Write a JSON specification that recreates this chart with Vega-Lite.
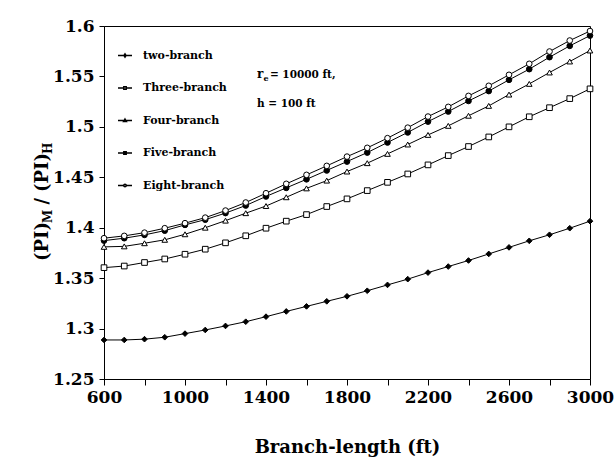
{
  "$schema": "https://vega.github.io/schema/vega-lite/v6.json",
  "width": 486,
  "height": 353,
  "autosize": {"type": "none"},
  "padding": {"left": 104, "top": 26, "right": 25, "bottom": 80},
  "background": "white",
  "config": {
    "view": {"stroke": "black", "strokeWidth": 1},
    "font": "DejaVu Serif",
    "axis": {"grid": false, "domainColor": "black", "tickColor": "black", "labelColor": "black", "titleColor": "black", "labelFont": "DejaVu Serif", "titleFont": "DejaVu Serif", "labelFontWeight": "bold", "titleFontWeight": "bold", "labelFontSize": 17, "titleFontSize": 18}
  },
  "datasets": {
    "curves": [
      {"series": "two-branch", "L": 600, "R": 1.2887}, {"series": "two-branch", "L": 700, "R": 1.2887}, {"series": "two-branch", "L": 800, "R": 1.2895}, {"series": "two-branch", "L": 900, "R": 1.2914}, {"series": "two-branch", "L": 1000, "R": 1.295}, {"series": "two-branch", "L": 1100, "R": 1.2986}, {"series": "two-branch", "L": 1200, "R": 1.3026}, {"series": "two-branch", "L": 1300, "R": 1.3068}, {"series": "two-branch", "L": 1400, "R": 1.3118}, {"series": "two-branch", "L": 1500, "R": 1.317}, {"series": "two-branch", "L": 1600, "R": 1.322}, {"series": "two-branch", "L": 1700, "R": 1.327}, {"series": "two-branch", "L": 1800, "R": 1.332}, {"series": "two-branch", "L": 1900, "R": 1.3375}, {"series": "two-branch", "L": 2000, "R": 1.3433}, {"series": "two-branch", "L": 2100, "R": 1.349}, {"series": "two-branch", "L": 2200, "R": 1.3555}, {"series": "two-branch", "L": 2300, "R": 1.3615}, {"series": "two-branch", "L": 2400, "R": 1.3675}, {"series": "two-branch", "L": 2500, "R": 1.374}, {"series": "two-branch", "L": 2600, "R": 1.3805}, {"series": "two-branch", "L": 2700, "R": 1.387}, {"series": "two-branch", "L": 2800, "R": 1.393}, {"series": "two-branch", "L": 2900, "R": 1.3995}, {"series": "two-branch", "L": 3000, "R": 1.4065},
      {"series": "Three-branch", "L": 600, "R": 1.3604}, {"series": "Three-branch", "L": 700, "R": 1.362}, {"series": "Three-branch", "L": 800, "R": 1.3655}, {"series": "Three-branch", "L": 900, "R": 1.369}, {"series": "Three-branch", "L": 1000, "R": 1.3737}, {"series": "Three-branch", "L": 1100, "R": 1.3787}, {"series": "Three-branch", "L": 1200, "R": 1.385}, {"series": "Three-branch", "L": 1300, "R": 1.392}, {"series": "Three-branch", "L": 1400, "R": 1.3995}, {"series": "Three-branch", "L": 1500, "R": 1.4065}, {"series": "Three-branch", "L": 1600, "R": 1.413}, {"series": "Three-branch", "L": 1700, "R": 1.421}, {"series": "Three-branch", "L": 1800, "R": 1.4286}, {"series": "Three-branch", "L": 1900, "R": 1.4368}, {"series": "Three-branch", "L": 2000, "R": 1.445}, {"series": "Three-branch", "L": 2100, "R": 1.4533}, {"series": "Three-branch", "L": 2200, "R": 1.4623}, {"series": "Three-branch", "L": 2300, "R": 1.4715}, {"series": "Three-branch", "L": 2400, "R": 1.4805}, {"series": "Three-branch", "L": 2500, "R": 1.49}, {"series": "Three-branch", "L": 2600, "R": 1.5}, {"series": "Three-branch", "L": 2700, "R": 1.51}, {"series": "Three-branch", "L": 2800, "R": 1.519}, {"series": "Three-branch", "L": 2900, "R": 1.528}, {"series": "Three-branch", "L": 3000, "R": 1.5377},
      {"series": "Four-branch", "L": 600, "R": 1.381}, {"series": "Four-branch", "L": 700, "R": 1.3815}, {"series": "Four-branch", "L": 800, "R": 1.3846}, {"series": "Four-branch", "L": 900, "R": 1.388}, {"series": "Four-branch", "L": 1000, "R": 1.3935}, {"series": "Four-branch", "L": 1100, "R": 1.4}, {"series": "Four-branch", "L": 1200, "R": 1.407}, {"series": "Four-branch", "L": 1300, "R": 1.4144}, {"series": "Four-branch", "L": 1400, "R": 1.4215}, {"series": "Four-branch", "L": 1500, "R": 1.4302}, {"series": "Four-branch", "L": 1600, "R": 1.439}, {"series": "Four-branch", "L": 1700, "R": 1.4467}, {"series": "Four-branch", "L": 1800, "R": 1.4557}, {"series": "Four-branch", "L": 1900, "R": 1.464}, {"series": "Four-branch", "L": 2000, "R": 1.4732}, {"series": "Four-branch", "L": 2100, "R": 1.4825}, {"series": "Four-branch", "L": 2200, "R": 1.492}, {"series": "Four-branch", "L": 2300, "R": 1.501}, {"series": "Four-branch", "L": 2400, "R": 1.511}, {"series": "Four-branch", "L": 2500, "R": 1.5208}, {"series": "Four-branch", "L": 2600, "R": 1.532}, {"series": "Four-branch", "L": 2700, "R": 1.5426}, {"series": "Four-branch", "L": 2800, "R": 1.5539}, {"series": "Four-branch", "L": 2900, "R": 1.5648}, {"series": "Four-branch", "L": 3000, "R": 1.5757},
      {"series": "Five-branch", "L": 600, "R": 1.3872}, {"series": "Five-branch", "L": 700, "R": 1.3896}, {"series": "Five-branch", "L": 800, "R": 1.3929}, {"series": "Five-branch", "L": 900, "R": 1.3971}, {"series": "Five-branch", "L": 1000, "R": 1.4028}, {"series": "Five-branch", "L": 1100, "R": 1.408}, {"series": "Five-branch", "L": 1200, "R": 1.4145}, {"series": "Five-branch", "L": 1300, "R": 1.422}, {"series": "Five-branch", "L": 1400, "R": 1.431}, {"series": "Five-branch", "L": 1500, "R": 1.4395}, {"series": "Five-branch", "L": 1600, "R": 1.448}, {"series": "Five-branch", "L": 1700, "R": 1.4568}, {"series": "Five-branch", "L": 1800, "R": 1.4656}, {"series": "Five-branch", "L": 1900, "R": 1.4745}, {"series": "Five-branch", "L": 2000, "R": 1.4845}, {"series": "Five-branch", "L": 2100, "R": 1.4945}, {"series": "Five-branch", "L": 2200, "R": 1.5052}, {"series": "Five-branch", "L": 2300, "R": 1.5152}, {"series": "Five-branch", "L": 2400, "R": 1.5257}, {"series": "Five-branch", "L": 2500, "R": 1.5355}, {"series": "Five-branch", "L": 2600, "R": 1.5466}, {"series": "Five-branch", "L": 2700, "R": 1.5572}, {"series": "Five-branch", "L": 2800, "R": 1.5691}, {"series": "Five-branch", "L": 2900, "R": 1.5803}, {"series": "Five-branch", "L": 3000, "R": 1.5905},
      {"series": "Eight-branch", "L": 600, "R": 1.3896}, {"series": "Eight-branch", "L": 700, "R": 1.3919}, {"series": "Eight-branch", "L": 800, "R": 1.3951}, {"series": "Eight-branch", "L": 900, "R": 1.3995}, {"series": "Eight-branch", "L": 1000, "R": 1.4045}, {"series": "Eight-branch", "L": 1100, "R": 1.41}, {"series": "Eight-branch", "L": 1200, "R": 1.417}, {"series": "Eight-branch", "L": 1300, "R": 1.425}, {"series": "Eight-branch", "L": 1400, "R": 1.4342}, {"series": "Eight-branch", "L": 1500, "R": 1.4435}, {"series": "Eight-branch", "L": 1600, "R": 1.4524}, {"series": "Eight-branch", "L": 1700, "R": 1.4613}, {"series": "Eight-branch", "L": 1800, "R": 1.4705}, {"series": "Eight-branch", "L": 1900, "R": 1.4792}, {"series": "Eight-branch", "L": 2000, "R": 1.4888}, {"series": "Eight-branch", "L": 2100, "R": 1.4992}, {"series": "Eight-branch", "L": 2200, "R": 1.5102}, {"series": "Eight-branch", "L": 2300, "R": 1.5198}, {"series": "Eight-branch", "L": 2400, "R": 1.5307}, {"series": "Eight-branch", "L": 2500, "R": 1.5407}, {"series": "Eight-branch", "L": 2600, "R": 1.5516}, {"series": "Eight-branch", "L": 2700, "R": 1.5625}, {"series": "Eight-branch", "L": 2800, "R": 1.5747}, {"series": "Eight-branch", "L": 2900, "R": 1.5856}, {"series": "Eight-branch", "L": 3000, "R": 1.595}
    ]
  },
  "layer": [
    {
      "data": {"name": "curves"},
      "mark": {"type": "line", "color": "black", "strokeWidth": 1},
      "encoding": {
        "x": {"field": "L", "type": "quantitative", "scale": {"domain": [600, 3000], "nice": false},
          "axis": {"values": [600, 800, 1000, 1200, 1400, 1600, 1800, 2000, 2200, 2400, 2600, 2800, 3000], "format": "d", "labelExpr": "(datum.value - 600) % 400 == 0 ? datum.label : ''", "tickSize": 6, "labelPadding": 4, "title": "Branch-length (ft)", "titlePadding": 33, "labelFlush": false}},
        "y": {"field": "R", "type": "quantitative", "scale": {"domain": [1.25, 1.6], "nice": false, "zero": false},
          "axis": {"values": [1.25, 1.3, 1.35, 1.4, 1.45, 1.5, 1.55, 1.6], "format": ".2~f", "tickSize": 5, "labelPadding": 5, "title": null, "labelFlush": false}},
        "detail": {"field": "series"}
      }
    },
    {
      "data": {"name": "curves"},
      "mark": {"type": "point", "filled": true, "size": 32, "stroke": "black", "strokeWidth": 1, "opacity": 1},
      "encoding": {
        "x": {"field": "L", "type": "quantitative"},
        "y": {"field": "R", "type": "quantitative"},
        "shape": {"field": "series", "type": "nominal", "legend": null,
          "scale": {"domain": ["two-branch", "Three-branch", "Four-branch", "Five-branch", "Eight-branch"], "range": ["diamond", "square", "triangle-up", "circle", "circle"]}},
        "fill": {"field": "series", "type": "nominal", "legend": null,
          "scale": {"domain": ["two-branch", "Three-branch", "Four-branch", "Five-branch", "Eight-branch"], "range": ["black", "white", "white", "black", "white"]}}
      }
    },
    {
      "data": {"name": "curves"},
      "mark": {"type": "point", "filled": false, "opacity": 0, "stroke": "black"},
      "encoding": {
        "x": {"field": "L", "type": "quantitative"},
        "y": {"field": "R", "type": "quantitative"},
        "shape": {"field": "series", "type": "nominal",
          "scale": {"domain": ["two-branch", "Three-branch", "Four-branch", "Five-branch", "Eight-branch"],
            "range": [
              "M-1,0H1M0,-0.24L0.15,0L0,0.24L-0.15,0Z",
              "M-1,0H-0.17M0.17,0H1M-0.17,-0.17H0.17V0.17H-0.17Z",
              "M-1,0H-0.12M0.12,0H1M0,-0.2L0.2,0.15L-0.2,0.15Z",
              "M-1,0H1M-0.17,-0.19H0.17V0.19H-0.17Z",
              "M-1,0H-0.18M0.18,0H1M0.18,0L0.127,0.127L0,0.18L-0.127,0.127L-0.18,0L-0.127,-0.127L0,-0.18L0.127,-0.127Z"
            ]},
          "legend": {"title": null, "orient": "none", "legendX": 13, "legendY": 21.5, "padding": 0, "symbolSize": 196, "labelFont": "DejaVu Serif", "labelFontWeight": "bold", "labelFontSize": 11, "labelColor": "black", "labelOffset": 10, "rowPadding": 19.5, "labelLimit": 200,
            "encode": {"symbols": {"update": {"fill": {"scale": "fill", "field": "value"}, "stroke": {"value": "black"}, "strokeWidth": {"value": 1}, "opacity": {"value": 1}, "fillOpacity": {"value": 1}, "strokeOpacity": {"value": 1}}}}}}
      }
    },
    {
      "data": {"values": [{}]},
      "mark": {"type": "text", "text": "r", "font": "DejaVu Serif", "fontWeight": "bold", "fontSize": 12, "align": "left", "baseline": "alphabetic", "color": "black"},
      "encoding": {"x": {"datum": 1355, "type": "quantitative"}, "y": {"datum": 1.5486, "type": "quantitative"}}
    },
    {
      "data": {"values": [{}]},
      "mark": {"type": "text", "text": "e", "font": "DejaVu Serif", "fontWeight": "bold", "fontSize": 8, "align": "left", "baseline": "alphabetic", "dx": 6.5, "dy": 3, "color": "black"},
      "encoding": {"x": {"datum": 1355, "type": "quantitative"}, "y": {"datum": 1.5486, "type": "quantitative"}}
    },
    {
      "data": {"values": [{}]},
      "mark": {"type": "text", "text": "= 10000 ft,", "font": "DejaVu Serif", "fontWeight": "bold", "fontSize": 10.5, "align": "left", "baseline": "alphabetic", "dx": 13, "color": "black"},
      "encoding": {"x": {"datum": 1355, "type": "quantitative"}, "y": {"datum": 1.5486, "type": "quantitative"}}
    },
    {
      "data": {"values": [{}]},
      "mark": {"type": "text", "text": "h = 100 ft", "font": "DejaVu Serif", "fontWeight": "bold", "fontSize": 10.5, "align": "left", "baseline": "alphabetic", "color": "black"},
      "encoding": {"x": {"datum": 1355, "type": "quantitative"}, "y": {"datum": 1.5198, "type": "quantitative"}}
    },
    {
      "data": {"values": [{}]},
      "mark": {"type": "text", "text": "(PI)", "font": "DejaVu Serif", "fontWeight": "bold", "fontSize": 18, "align": "left", "baseline": "alphabetic", "angle": 270, "color": "black"},
      "encoding": {"x": {"datum": 323.5, "type": "quantitative"}, "y": {"datum": 1.367, "type": "quantitative"}}
    },
    {
      "data": {"values": [{}]},
      "mark": {"type": "text", "text": "M", "font": "DejaVu Serif", "fontWeight": "bold", "fontSize": 12, "align": "left", "baseline": "alphabetic", "angle": 270, "dx": 38, "dy": 4, "color": "black"},
      "encoding": {"x": {"datum": 323.5, "type": "quantitative"}, "y": {"datum": 1.367, "type": "quantitative"}}
    },
    {
      "data": {"values": [{}]},
      "mark": {"type": "text", "text": "/", "font": "DejaVu Serif", "fontWeight": "bold", "fontSize": 18, "align": "left", "baseline": "alphabetic", "angle": 270, "dx": 56.5, "color": "black"},
      "encoding": {"x": {"datum": 323.5, "type": "quantitative"}, "y": {"datum": 1.367, "type": "quantitative"}}
    },
    {
      "data": {"values": [{}]},
      "mark": {"type": "text", "text": "(PI)", "font": "DejaVu Serif", "fontWeight": "bold", "fontSize": 18, "align": "left", "baseline": "alphabetic", "angle": 270, "dx": 69, "color": "black"},
      "encoding": {"x": {"datum": 323.5, "type": "quantitative"}, "y": {"datum": 1.367, "type": "quantitative"}}
    },
    {
      "data": {"values": [{}]},
      "mark": {"type": "text", "text": "H", "font": "DejaVu Serif", "fontWeight": "bold", "fontSize": 12, "align": "left", "baseline": "alphabetic", "angle": 270, "dx": 107, "dy": 4, "color": "black"},
      "encoding": {"x": {"datum": 323.5, "type": "quantitative"}, "y": {"datum": 1.367, "type": "quantitative"}}
    }
  ],
  "resolve": {"scale": {"shape": "independent"}}
}
